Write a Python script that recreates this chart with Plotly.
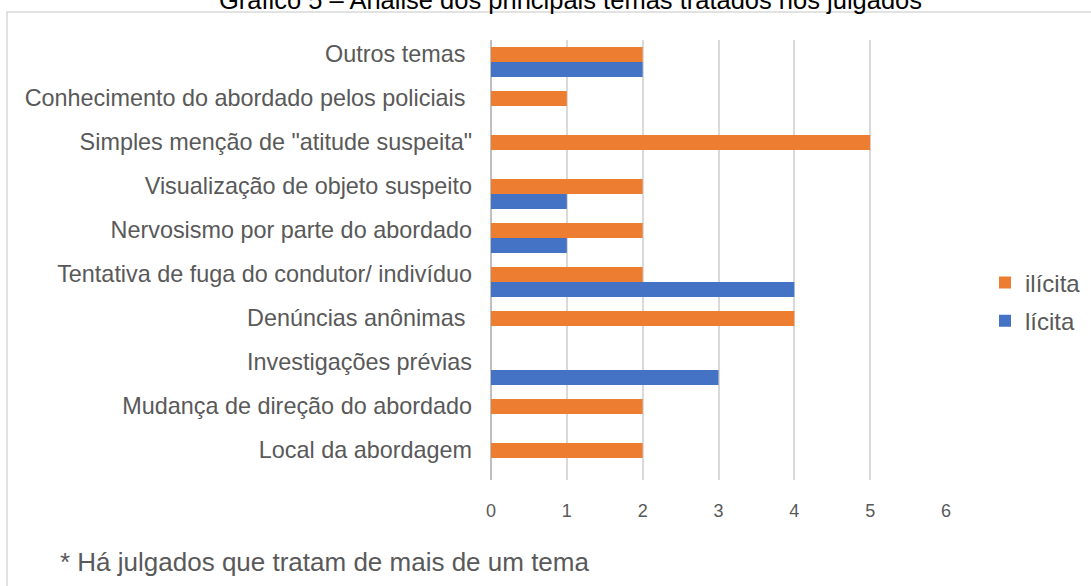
import plotly.graph_objects as go

# ---- data (bottom to top, as drawn on the category axis) ----
categorias = [
    "Local da abordagem",
    "Mudança de direção do abordado",
    "Investigações prévias",
    "Denúncias anônimas",
    "Tentativa de fuga do condutor/ indivíduo",
    "Nervosismo por parte do abordado",
    "Visualização de objeto suspeito",
    "Simples menção de \"atitude suspeita\"",
    "Conhecimento do abordado pelos policiais",
    "Outros temas",
]
rotulos = [
    "Local da abordagem",
    "Mudança de direção do abordado",
    "Investigações prévias",
    "Denúncias anônimas\u00a0",
    "Tentativa de fuga do condutor/ indivíduo",
    "Nervosismo por parte do abordado",
    "Visualização de objeto suspeito",
    "Simples menção de \"atitude suspeita\"",
    "Conhecimento do abordado pelos policiais\u00a0",
    "Outros temas\u00a0",
]
licita = [0, 0, 3, 0, 4, 1, 1, 0, 0, 2]
ilicita = [2, 2, 0, 4, 2, 2, 2, 5, 1, 2]
x_ticks = [0, 1, 2, 3, 4, 5, 6]

titulo = "Gráfico 5 – Análise dos principais temas tratados nos julgados"
nota = "* Há julgados que tratam de mais de um tema"

W, H = 1091, 586
L, R, T, B = 491, 946, 40, 480  # plot area in pixels


def px(xp):
    return (xp - L) / (R - L)


def py(yp):
    return (B - yp) / (B - T)


TXT = "#595959"
FONT = "Liberation Sans, Arial, sans-serif"

fig = go.Figure()
fig.add_trace(go.Bar(
    y=categorias, x=licita, name="lícita", orientation="h",
    marker=dict(color="#4472C4", line=dict(width=0)),
    legendgroup="b", legendrank=2,
))
fig.add_trace(go.Bar(
    y=categorias, x=ilicita, name="ilícita", orientation="h",
    marker=dict(color="#ED7D31", line=dict(width=0)),
    legendgroup="a", legendrank=1,
))

fig.update_layout(
    width=W, height=H,
    margin=dict(l=L, r=W - R, t=T, b=H - B, autoexpand=False),
    paper_bgcolor="white", plot_bgcolor="white",
    barmode="group", bargap=0.32, bargroupgap=0,
    font=dict(family=FONT, color=TXT),
    showlegend=True,
    legend=dict(
        x=px(985), y=py(302), xanchor="left", yanchor="middle",
        traceorder="grouped", tracegroupgap=4,
        font=dict(size=24, color=TXT, family=FONT),
        bgcolor="rgba(0,0,0,0)", itemwidth=30,
    ),
    xaxis=dict(
        range=[0, 6], tickvals=x_ticks, showgrid=True,
        gridcolor="#d9d9d9", gridwidth=1.5,
        zeroline=True, zerolinecolor="#bfbfbf", zerolinewidth=2,
        showline=False, ticks="", ticklabelstandoff=18,
        tickfont=dict(size=18, color=TXT, family=FONT),
        fixedrange=True,
    ),
    yaxis=dict(
        type="category", categoryorder="array", categoryarray=categorias,
        tickvals=categorias, ticktext=rotulos,
        showgrid=False, zeroline=False, showline=False, ticks="",
        ticklabelstandoff=18, ticklabelshift=-8,
        tickfont=dict(size=23.4, color=TXT, family=FONT),
        fixedrange=True,
    ),
    shapes=[dict(
        type="rect", xref="paper", yref="paper", layer="below",
        x0=px(7), x1=px(1100), y0=py(12), y1=py(600),
        line=dict(color="#d9d9d9", width=1.5), fillcolor="rgba(0,0,0,0)",
    )],
    annotations=[
        dict(text=titulo, xref="paper", yref="paper", x=px(570), y=py(0),
             xanchor="center", yanchor="middle", showarrow=False,
             font=dict(size=25.5, color="#000000", family=FONT)),
        dict(text=nota, xref="paper", yref="paper", x=px(58), y=py(562),
             xanchor="left", yanchor="middle", showarrow=False,
             font=dict(size=26, color=TXT, family=FONT)),
    ],
)

fig.write_html(
    "out.html",
    config={"displayModeBar": False},
    post_script="document.body.style.margin='0';document.body.style.padding='0';",
)
